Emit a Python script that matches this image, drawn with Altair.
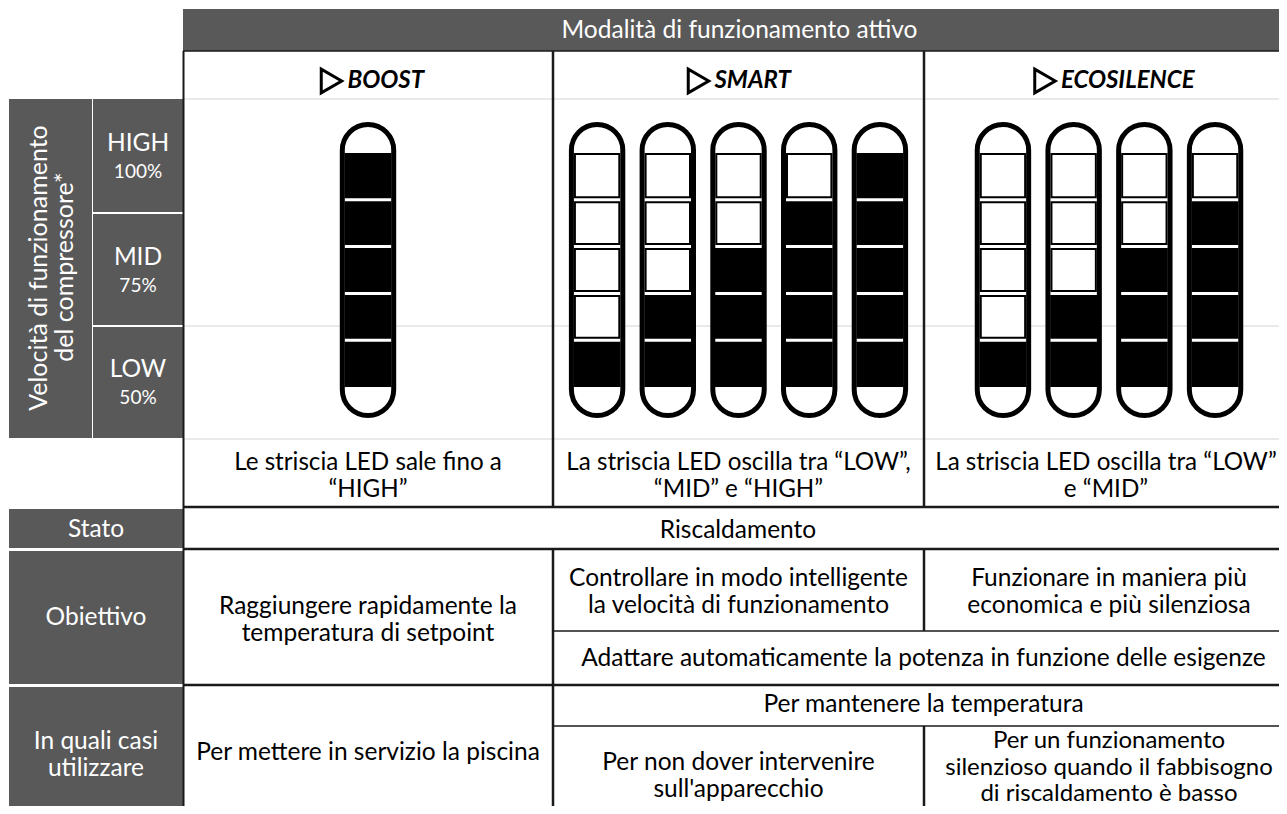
import altair as alt
import pandas as pd
import numpy as np

# ------------------------------------------------------------------ data
MODES = ["BOOST", "SMART", "ECOSILENCE"]
LIT_COUNTS = [[5], [1, 2, 3, 4, 5], [1, 2, 3, 4]]   # lit LED segments per strip
N_SEGMENTS = 5
SPEED_LABELS = ["HIGH", "MID", "LOW"]
SPEED_PCTS = ["100%", "75%", "50%"]
HEADER = "Modalità di funzionamento attivo"
SPEED_TITLE = ["Velocità di funzionamento", "del compressore*"]
CAPTIONS = [
    ["Le striscia LED sale fino a", "“HIGH”"],
    ["La striscia LED oscilla tra “LOW”,", "“MID” e “HIGH”"],
    ["La striscia LED oscilla tra “LOW”", "e “MID”"],
]
ROW_LABELS = [["Stato"], ["Obiettivo"], ["In quali casi", "utilizzare"]]
STATO = ["Riscaldamento"]
OBIETTIVO_1 = ["Raggiungere rapidamente la", "temperatura di setpoint"]
OBIETTIVO_2 = ["Controllare in modo intelligente", "la velocità di funzionamento"]
OBIETTIVO_3 = ["Funzionare in maniera più", "economica e più silenziosa"]
OBIETTIVO_23 = ["Adattare automaticamente la potenza in funzione delle esigenze"]
CASI_1 = ["Per mettere in servizio la piscina"]
CASI_23 = ["Per mantenere la temperatura"]
CASI_2 = ["Per non dover intervenire", "sull'apparecchio"]
CASI_3 = ["Per un funzionamento", "silenzioso quando il fabbisogno", "di riscaldamento è basso"]

# ------------------------------------------------------------------ layout (pixels)
GRAY = "#595959"
FONT = "Lato"
BODY = 24.5
LINE_H = 27
COL_EDGES = [183, 553, 924, 1294]
COL_C = [(a + b) / 2 for a, b in zip(COL_EDGES[:-1], COL_EDGES[1:])]
LEFT = [9, 92, 93, 183]
HEAD_Y = (9, 51)
SPEED_EDGES = [99, 213, 326, 438]
R_STATO = (507, 549)
R_OBI = (549, 631, 685)
R_CASI = (685, 726, 820)
LED_PITCH = 70.7
LED_HALF = 25.7
LED_STROKE = 5
LED_Y = (124.5, 415.5)
SEG_B = np.linspace(153, 387, N_SEGMENTS + 1)
TITLE_Y = 81
TITLE_W = [77, 84, 132]

rects, rules, faint, caps, segs, texts, wtexts, rot, titles, arrows = ([] for _ in range(10))

# gray cells
rects.append(dict(x=COL_EDGES[0], x2=1300, y=HEAD_Y[0], y2=HEAD_Y[1]))
rects.append(dict(x=LEFT[0], x2=LEFT[1], y=SPEED_EDGES[0], y2=SPEED_EDGES[3]))
for i in range(3):
    rects.append(dict(x=LEFT[2], x2=LEFT[3], y=SPEED_EDGES[i] + (1 if i else 0),
                      y2=SPEED_EDGES[i + 1] - (1 if i < 2 else 0)))
row_spans = [(R_STATO[0] + 2, R_STATO[1] - 1), (R_OBI[0] + 2, R_OBI[2] - 1), (R_CASI[0] + 2, R_CASI[2])]
for (a, b) in row_spans:
    rects.append(dict(x=LEFT[0], x2=LEFT[3], y=a, y2=b))

# faint guide lines
for yy in [SPEED_EDGES[0], SPEED_EDGES[2], SPEED_EDGES[3] + 1]:
    faint.append(dict(x=COL_EDGES[0], x2=1300, y=yy, y2=yy))

# table lines
def hline(y, x1, x2, w):
    rules.append(dict(x=x1, x2=x2, y=y, y2=y, w=w))

def vline(x, y1, y2, w):
    rules.append(dict(x=x, x2=x, y=y1, y2=y2, w=w))

hline(HEAD_Y[1], COL_EDGES[0], 1300, 1.5)
vline(COL_EDGES[0] + 0.5, HEAD_Y[1], 820, 2)
for xx in COL_EDGES[1:3]:
    vline(xx, HEAD_Y[1], R_STATO[0], 2.5)
vline(COL_EDGES[1], R_STATO[1], 820, 2.5)
vline(COL_EDGES[2], R_STATO[1], R_OBI[1], 2.5)
vline(COL_EDGES[2], R_CASI[1], 820, 2.5)
for yy in [R_STATO[0], R_STATO[1], R_OBI[2]]:
    hline(yy, COL_EDGES[0], 1300, 2.5)
for yy in [R_OBI[1], R_CASI[1]]:
    hline(yy, COL_EDGES[1], 1300, 1.5)

# LED strips
for m, counts in enumerate(LIT_COUNTS):
    n = len(counts)
    for j, lit in enumerate(counts):
        cx = COL_C[m] + (j - (n - 1) / 2) * LED_PITCH
        caps.append(dict(x=cx - LED_HALF, x2=cx + LED_HALF, y=LED_Y[0], y2=LED_Y[1]))
        for i in range(N_SEGMENTS):           # i = 0 top ... 4 bottom
            on = (N_SEGMENTS - i) <= lit
            top_gap = 1.5 if i > 0 else 0
            bot_gap = 1.5 if i < N_SEGMENTS - 1 else 0
            if on:
                segs.append(dict(x=cx - 23.5, x2=cx + 23.5, y=SEG_B[i] + top_gap,
                                 y2=SEG_B[i + 1] - bot_gap, fill="#000000", stroke="#000000", w=0))
            else:
                segs.append(dict(x=cx - 22.2, x2=cx + 22.2, y=SEG_B[i] + top_gap + 1,
                                 y2=SEG_B[i + 1] - bot_gap - 1, fill="#ffffff", stroke="#000000", w=2))

# texts
def block(lines, cx, cy, store, size=BODY, lh=LINE_H):
    n = len(lines)
    for k, t in enumerate(lines):
        store.append(dict(x=cx, y=cy + (k - (n - 1) / 2) * lh, t=t, s=size))

block([HEADER], COL_C[1] + 1, 31, wtexts, size=24.5)
for i, (lab, pct) in enumerate(zip(SPEED_LABELS, SPEED_PCTS)):
    yc = (SPEED_EDGES[i] + SPEED_EDGES[i + 1]) / 2
    wtexts.append(dict(x=138, y=yc - 12, t=lab, s=24.5))
    wtexts.append(dict(x=138, y=yc + 16, t=pct, s=19))
rot.append(dict(x=39, y=268, t=SPEED_TITLE[0], s=25))
rot.append(dict(x=65, y=267, t=SPEED_TITLE[1], s=25))
block(ROW_LABELS[0], 96, 530, wtexts)
block(ROW_LABELS[1], 96, 618, wtexts)
block(ROW_LABELS[2], 96, 755, wtexts)

for m in range(3):
    block(CAPTIONS[m], COL_C[m] - (3 if m == 2 else 0), 476, texts, size=24.2)
block(STATO, 738, 531, texts)
block(OBIETTIVO_1, COL_C[0], 620, texts)
block(OBIETTIVO_2, COL_C[1], 592.5, texts)
block(OBIETTIVO_3, COL_C[2], 592.5, texts)
block(OBIETTIVO_23, (COL_EDGES[1] + COL_EDGES[3]) / 2, 659, texts)
block(CASI_1, COL_C[0], 753, texts)
block(CASI_23, (COL_EDGES[1] + COL_EDGES[3]) / 2, 705, texts)
block(CASI_2, COL_C[1], 776, texts)
block(CASI_3, COL_C[2], 767.5, texts, size=24, lh=26.5)

for m, name in enumerate(MODES):
    gw = 28 + TITLE_W[m]
    start = COL_C[m] + 4 - gw / 2
    arrows.append(dict(x=start + 12, y=TITLE_Y))
    titles.append(dict(x=start + 28, y=TITLE_Y, t=name))

# ------------------------------------------------------------------ chart
# the page has an 8px margin: pixel coordinates of the picture map 1:1
W, H = 1271, 798
XS = alt.Scale(domain=[8, 8 + W], nice=False, zero=False)
YS = alt.Scale(domain=[8, 8 + H], nice=False, zero=False, reverse=True)


def X(f="x"):
    return alt.X(f"{f}:Q", scale=XS, axis=None)


def Y(f="y"):
    return alt.Y(f"{f}:Q", scale=YS, axis=None)


gray_layer = alt.Chart(pd.DataFrame(rects)).mark_rect(color=GRAY).encode(
    x=X(), x2="x2:Q", y=Y(), y2="y2:Q")
faint_layer = alt.Chart(pd.DataFrame(faint)).mark_rule(color="#d4d4d4", strokeWidth=1).encode(
    x=X(), x2="x2:Q", y=Y(), y2="y2:Q")
rule_layer = alt.Chart(pd.DataFrame(rules)).mark_rule(color="#1a1a1a").encode(
    x=X(), x2="x2:Q", y=Y(), y2="y2:Q",
    strokeWidth=alt.StrokeWidth("w:Q", scale=None))
cap_layer = alt.Chart(pd.DataFrame(caps)).mark_rect(
    fill="#ffffff", stroke="#000000", strokeWidth=LED_STROKE, cornerRadius=LED_HALF).encode(
    x=X(), x2="x2:Q", y=Y(), y2="y2:Q")
seg_layer = alt.Chart(pd.DataFrame(segs)).mark_rect().encode(
    x=X(), x2="x2:Q", y=Y(), y2="y2:Q",
    fill=alt.Fill("fill:N", scale=None),
    stroke=alt.Stroke("stroke:N", scale=None),
    strokeWidth=alt.StrokeWidth("w:Q", scale=None))
arrow_layer = alt.Chart(pd.DataFrame(arrows)).mark_point(
    shape="triangle-right", filled=False, color="#000000", strokeWidth=3, size=560, opacity=1).encode(
    x=X(), y=Y())
title_layer = alt.Chart(pd.DataFrame(titles)).mark_text(
    font=FONT, fontSize=24, fontWeight="bold", fontStyle="italic", align="left",
    baseline="middle", color="#000000").encode(x=X(), y=Y(), text="t:N")
text_layer = alt.Chart(pd.DataFrame(texts)).mark_text(
    font=FONT, align="center", baseline="middle", color="#000000").encode(
    x=X(), y=Y(), text="t:N", size=alt.Size("s:Q", scale=None))
wtext_layer = alt.Chart(pd.DataFrame(wtexts)).mark_text(
    font=FONT, align="center", baseline="middle", color="#ffffff").encode(
    x=X(), y=Y(), text="t:N", size=alt.Size("s:Q", scale=None))
rot_layer = alt.Chart(pd.DataFrame(rot)).mark_text(
    font=FONT, align="center", baseline="middle", color="#ffffff", angle=270).encode(
    x=X(), y=Y(), text="t:N", size=alt.Size("s:Q", scale=None))

chart = alt.layer(
    gray_layer, faint_layer, rule_layer, cap_layer, seg_layer,
    arrow_layer, title_layer, text_layer, wtext_layer, rot_layer
).properties(
    width=W, height=H, padding=0, autosize=alt.AutoSizeParams(type="none"),
    background="#ffffff"
).configure_view(stroke=None)

chart.save("out.html", embed_options={"renderer": "svg", "actions": False})
